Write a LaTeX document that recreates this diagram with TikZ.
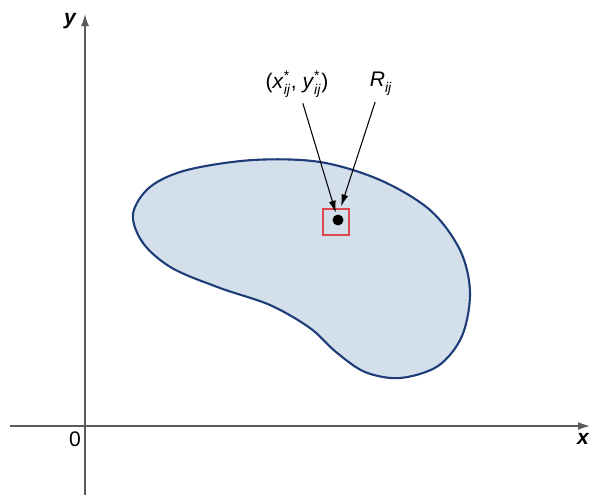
\documentclass[tikz,border=0pt]{standalone}
\usepackage{amsmath}
\usepackage{fontspec}
\setmainfont{Liberation Sans}
\usetikzlibrary{arrows.meta,positioning}
\definecolor{regionEdge}{HTML}{1E3C78}
\definecolor{regionFill}{HTML}{D3DFEA}
\definecolor{cellRed}{HTML}{E0474F}
\definecolor{axisGray}{HTML}{5A5A5A}
\newcommand{\ssub}[2]{\ensuremath{^{\text{#1}}_{\text{\itshape #2}}}}

\begin{document}
\begin{tikzpicture}[x=0.02cm,y=-0.02cm,every node/.style={font=\fontsize{12}{14}\selectfont}]
      \tikzstyle{axis}=[draw=axisGray,line width=0.8pt,-{Latex[length=2.4mm,width=1.6mm]}]
      \tikzstyle{pointer}=[draw=black,line width=0.6pt,-{Latex[length=2.4mm,width=1.4mm]},shorten >=1pt]
      \tikzstyle{cell}=[draw=cellRed,line width=1pt,minimum size=26*0.02cm,inner sep=0pt]
      \tikzstyle{dot}=[circle,fill=black,minimum size=11*0.02cm,inner sep=0pt]
      \useasboundingbox (0,0) rectangle (592,495);
      % region D
      \draw[regionEdge,fill=regionFill,line width=1.2pt] plot[smooth cycle,tension=0.55] coordinates
        {(133,214) (150,187) (187,170) (253,160) (320,162) (380,180) (430,210)
         (460,250) (470,292) (462,336) (438,366) (400,378) (365,372) (336,352)
         (310,328) (270,305) (220,288) (172,268) (143,243)};
      % axes
      \coordinate (xs) at (10,426);
      \coordinate (xe) at (590,426);
      \coordinate (ys) at (85,495);
      \coordinate (ye) at (85,14);
      \draw[axis] (xs)--(xe);
      \draw[axis] (ys)--(ye);
      \node (xl) at (583,439) {\bfseries\itshape x};
      \node (yl) at (70,21) {\bfseries\itshape y};
      \node (o) at (75,439) {0};
      % sub rectangle and sample point
      \node[cell] (rij) at (336,222) {};
      \node[dot] (pt) at (338,220) {};
      \node (ptlab) at (297,84) {(\textit{x}\ssub{*}{ij}, \textit{y}\ssub{*}{ij})};
      \node (rlab) at (381,84) {\textit{R}\ssub{}{ij}};
      \draw[pointer] (ptlab)--(pt);
      \draw[pointer] (rlab)--(rij);
    \end{tikzpicture}
\end{document}
